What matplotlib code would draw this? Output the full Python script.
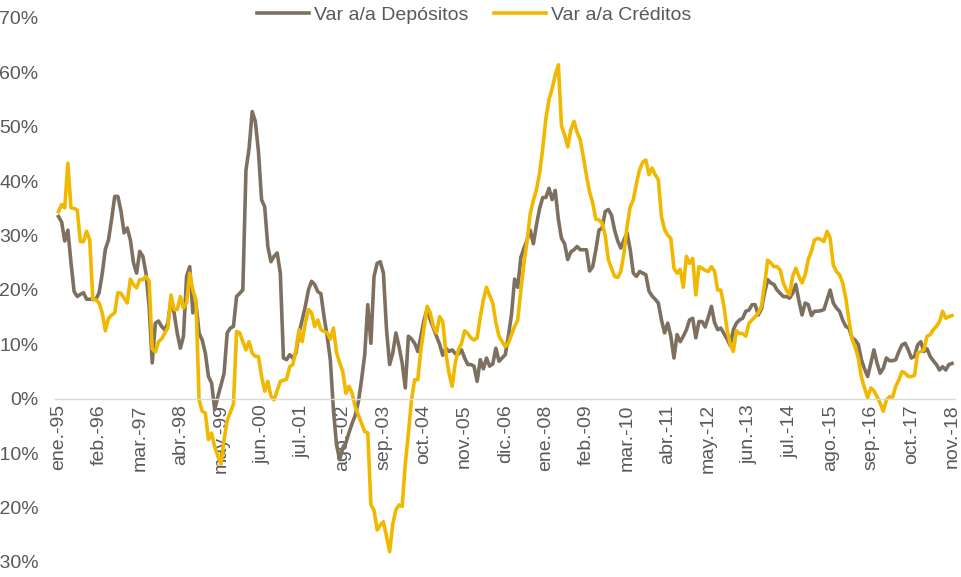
import matplotlib
matplotlib.use("Agg")
import matplotlib.pyplot as plt

plt.rcParams["font.family"] = ["Liberation Sans", "DejaVu Sans"]

# variacion interanual, en %, mensual desde ene.-95 hasta nov.-18
depositos = [
    33.5, 32.5, 29.0, 31.0, 25.0, 19.7, 18.8, 19.2, 19.5, 18.3, 18.3, 18.3,
    18.3, 19.5, 23.0, 27.5, 29.2, 33.0, 37.2, 37.2, 34.5, 30.5, 31.4, 29.2,
    25.0, 23.1, 27.1, 26.2, 23.1, 17.0, 6.6, 13.9, 14.3, 13.3, 12.7, 13.9,
    18.2, 15.8, 12.1, 9.3, 11.5, 22.5, 24.3, 15.8, 17.6, 12.1, 10.8, 8.4,
    4.1, 2.9, -2.0, 0.4, 2.5, 4.7, 12.1, 13.0, 13.3, 18.8, 19.4, 20.0,
    42.0, 46.0, 52.8, 51.0, 45.5, 36.6, 35.3, 28.0, 25.2, 26.2, 26.8, 23.1,
    7.5, 7.2, 8.1, 7.5, 8.4, 12.1, 14.5, 17.0, 20.0, 21.6, 21.0, 19.7,
    19.3, 15.1, 11.5, 7.2, -2.0, -8.5, -11.2, -9.0, -8.1, -6.2, -4.5, -3.0,
    -0.5, 3.5, 8.0, 17.3, 10.2, 22.5, 24.9, 25.2, 23.1, 12.7, 6.3, 8.4,
    12.1, 9.6, 6.6, 2.0, 11.5, 11.0, 10.2, 8.7, 11.5, 14.5, 16.4, 14.5,
    13.0, 11.5, 10.0, 8.0, 9.3, 8.7, 9.0, 8.3, 8.2, 9.0, 7.5, 6.3,
    6.3, 6.0, 3.2, 7.2, 5.5, 7.5, 6.0, 6.4, 9.3, 6.9, 7.5, 8.1,
    11.5, 15.5, 22.0, 20.5, 26.0, 27.7, 29.2, 31.0, 28.5, 32.0, 35.0, 37.0,
    37.0, 38.7, 36.6, 38.3, 33.0, 29.5, 28.5, 25.6, 27.0, 27.4, 28.0, 27.4,
    27.4, 27.4, 23.5, 24.3, 27.4, 31.0, 31.4, 34.4, 34.8, 33.8, 31.0, 29.0,
    27.7, 29.2, 30.5, 27.4, 23.1, 22.5, 23.4, 23.1, 22.8, 19.8, 18.9, 18.3,
    17.6, 14.5, 12.1, 13.9, 11.5, 7.5, 11.8, 10.5, 11.5, 12.7, 14.5, 14.8,
    11.2, 14.2, 14.2, 13.2, 15.0, 17.0, 14.0, 12.7, 13.0, 12.0, 11.0, 9.8,
    12.7, 13.9, 14.5, 14.8, 16.1, 16.3, 17.3, 17.3, 15.4, 16.5, 19.5, 21.9,
    21.3, 21.0, 20.0, 19.4, 18.8, 18.8, 18.5, 19.4, 21.0, 18.0, 15.4, 17.6,
    17.3, 15.3, 16.1, 16.1, 16.2, 16.4, 18.2, 20.0, 17.6, 16.7, 16.1, 14.5,
    13.3, 13.0, 11.2, 10.8, 10.0, 7.2, 5.5, 4.1, 6.5, 9.0, 6.6, 4.7,
    5.6, 7.5, 7.0, 7.0, 7.2, 8.7, 9.9, 10.2, 9.0, 7.5, 7.8, 9.9,
    10.5, 8.7, 9.2, 7.8, 7.0, 6.3, 5.3, 5.9, 5.3, 6.3, 6.5,
]

creditos = [
    34.4, 35.7, 35.1, 43.3, 35.1, 35.0, 34.7, 28.9, 28.9, 30.8, 29.2, 18.2,
    18.2, 17.6, 15.8, 12.5, 14.8, 15.4, 15.8, 19.5, 19.4, 18.5, 17.6, 22.0,
    21.0, 20.4, 21.9, 21.9, 22.5, 21.6, 9.2, 8.6, 10.5, 11.0, 12.1, 13.0,
    19.1, 16.4, 16.4, 18.8, 16.7, 17.6, 23.1, 20.0, 18.2, -0.2, -2.3, -2.6,
    -7.5, -6.3, -8.8, -10.5, -12.0, -7.5, -4.0, -2.5, -1.0, 12.4, 12.1, 10.5,
    9.0, 10.5, 8.4, 7.8, 7.8, 4.1, 1.4, 3.2, 0.5, -0.2, 1.5, 3.2,
    3.4, 3.6, 5.9, 6.3, 9.0, 12.7, 10.5, 13.9, 16.4, 15.8, 13.3, 14.5,
    12.7, 12.4, 12.1, 11.0, 13.0, 8.5, 6.6, 5.0, 1.0, 2.3, 1.0, -1.5,
    -3.0, -4.5, -6.0, -6.3, -19.5, -20.5, -24.1, -23.2, -22.6, -25.3, -28.1, -23.0,
    -20.4, -19.5, -19.8, -12.0, -6.3, -0.2, 3.5, 3.5, 9.0, 13.0, 17.0, 15.8,
    13.3, 12.1, 15.1, 14.2, 8.4, 4.7, 2.3, 6.6, 9.0, 10.2, 12.5, 12.0,
    11.2, 10.8, 11.2, 15.0, 18.2, 20.5, 19.0, 17.6, 14.0, 11.5, 10.5, 9.6,
    10.2, 11.8, 13.3, 14.5, 20.0, 25.0, 29.0, 34.0, 36.5, 38.5, 41.5, 46.0,
    51.5, 55.0, 57.0, 59.5, 61.4, 50.2, 48.5, 46.3, 49.5, 51.0, 49.0, 47.6,
    44.5, 41.0, 38.0, 36.0, 33.0, 32.9, 32.3, 30.0, 25.6, 24.0, 22.5, 22.3,
    23.4, 26.8, 31.7, 35.3, 36.6, 39.6, 42.1, 43.5, 43.9, 41.2, 42.4, 41.2,
    40.3, 33.5, 31.1, 30.1, 29.5, 24.0, 23.1, 23.8, 20.5, 26.2, 24.9, 25.8,
    19.1, 24.3, 24.0, 23.6, 23.4, 24.3, 23.4, 20.0, 20.0, 17.0, 12.7, 10.0,
    8.7, 12.5, 12.0, 12.0, 11.5, 13.9, 14.5, 15.1, 15.8, 17.0, 21.0, 25.5,
    25.0, 24.3, 24.3, 23.7, 21.3, 20.0, 19.1, 22.5, 24.0, 22.5, 21.3, 22.8,
    25.6, 27.1, 29.2, 29.5, 29.3, 28.9, 30.8, 29.5, 24.6, 23.4, 22.8, 21.3,
    18.5, 14.5, 11.0, 9.5, 7.5, 4.0, 2.0, 0.2, 2.0, 1.5, 0.4, -0.8,
    -2.3, -0.2, 0.4, 0.3, 2.3, 3.5, 5.0, 4.7, 4.1, 4.1, 4.3, 8.4,
    8.7, 9.0, 11.5, 11.8, 12.7, 13.3, 14.2, 16.1, 14.8, 15.1, 15.3,
]

etiquetas = ["ene.-95", "feb.-96", "mar.-97", "abr.-98", "may.-99", "jun.-00",
             "jul.-01", "ago.-02", "sep.-03", "oct.-04", "nov.-05", "dic.-06",
             "ene.-08", "feb.-09", "mar.-10", "abr.-11", "may.-12", "jun.-13",
             "jul.-14", "ago.-15", "sep.-16", "oct.-17", "nov.-18"]
paso = 13  # una etiqueta cada 13 meses

gris = "#595959"
W, H = 961, 577
fig = plt.figure(figsize=(W / 100, H / 100), dpi=100)
ax = fig.add_axes([55 / W, 15 / H, 900 / W, 544 / H])

xs = list(range(len(depositos)))
ax.plot(xs, depositos, color="#7E7060", lw=2.6, label="Var a/a Depósitos")
ax.plot(xs, creditos, color="#F1B800", lw=2.6, label="Var a/a Créditos")

ax.set_xlim(-1.12, 286.96)
ax.set_ylim(-30, 70)

# el eje x va en el 0 (esto resetea los ticks, por eso va antes)
for s in ["top", "right", "left"]:
    ax.spines[s].set_visible(False)
ax.spines["bottom"].set_position(("data", 0))
ax.spines["bottom"].set_color("#D9D9D9")
ax.spines["bottom"].set_linewidth(1.0)

yt = list(range(-30, 71, 10))
ax.set_yticks(yt)
ax.set_yticklabels([f"{v}%" for v in yt])
ax.set_xticks(range(0, len(depositos), paso))
ax.set_xticklabels(etiquetas)

ax.tick_params(axis="both", length=0, labelsize=14, labelcolor=gris)
ax.tick_params(axis="y", pad=12)
ax.tick_params(axis="x", pad=4, labelrotation=90)

fig.legend(loc="center", bbox_to_anchor=(474 / W, 1 - 15 / H), ncol=2,
           frameon=False, fontsize=14, labelcolor=gris, handlelength=2.7,
           handletextpad=0.25, columnspacing=1.3, borderaxespad=0,
           borderpad=0)

fig.savefig("out.png", dpi=100)
